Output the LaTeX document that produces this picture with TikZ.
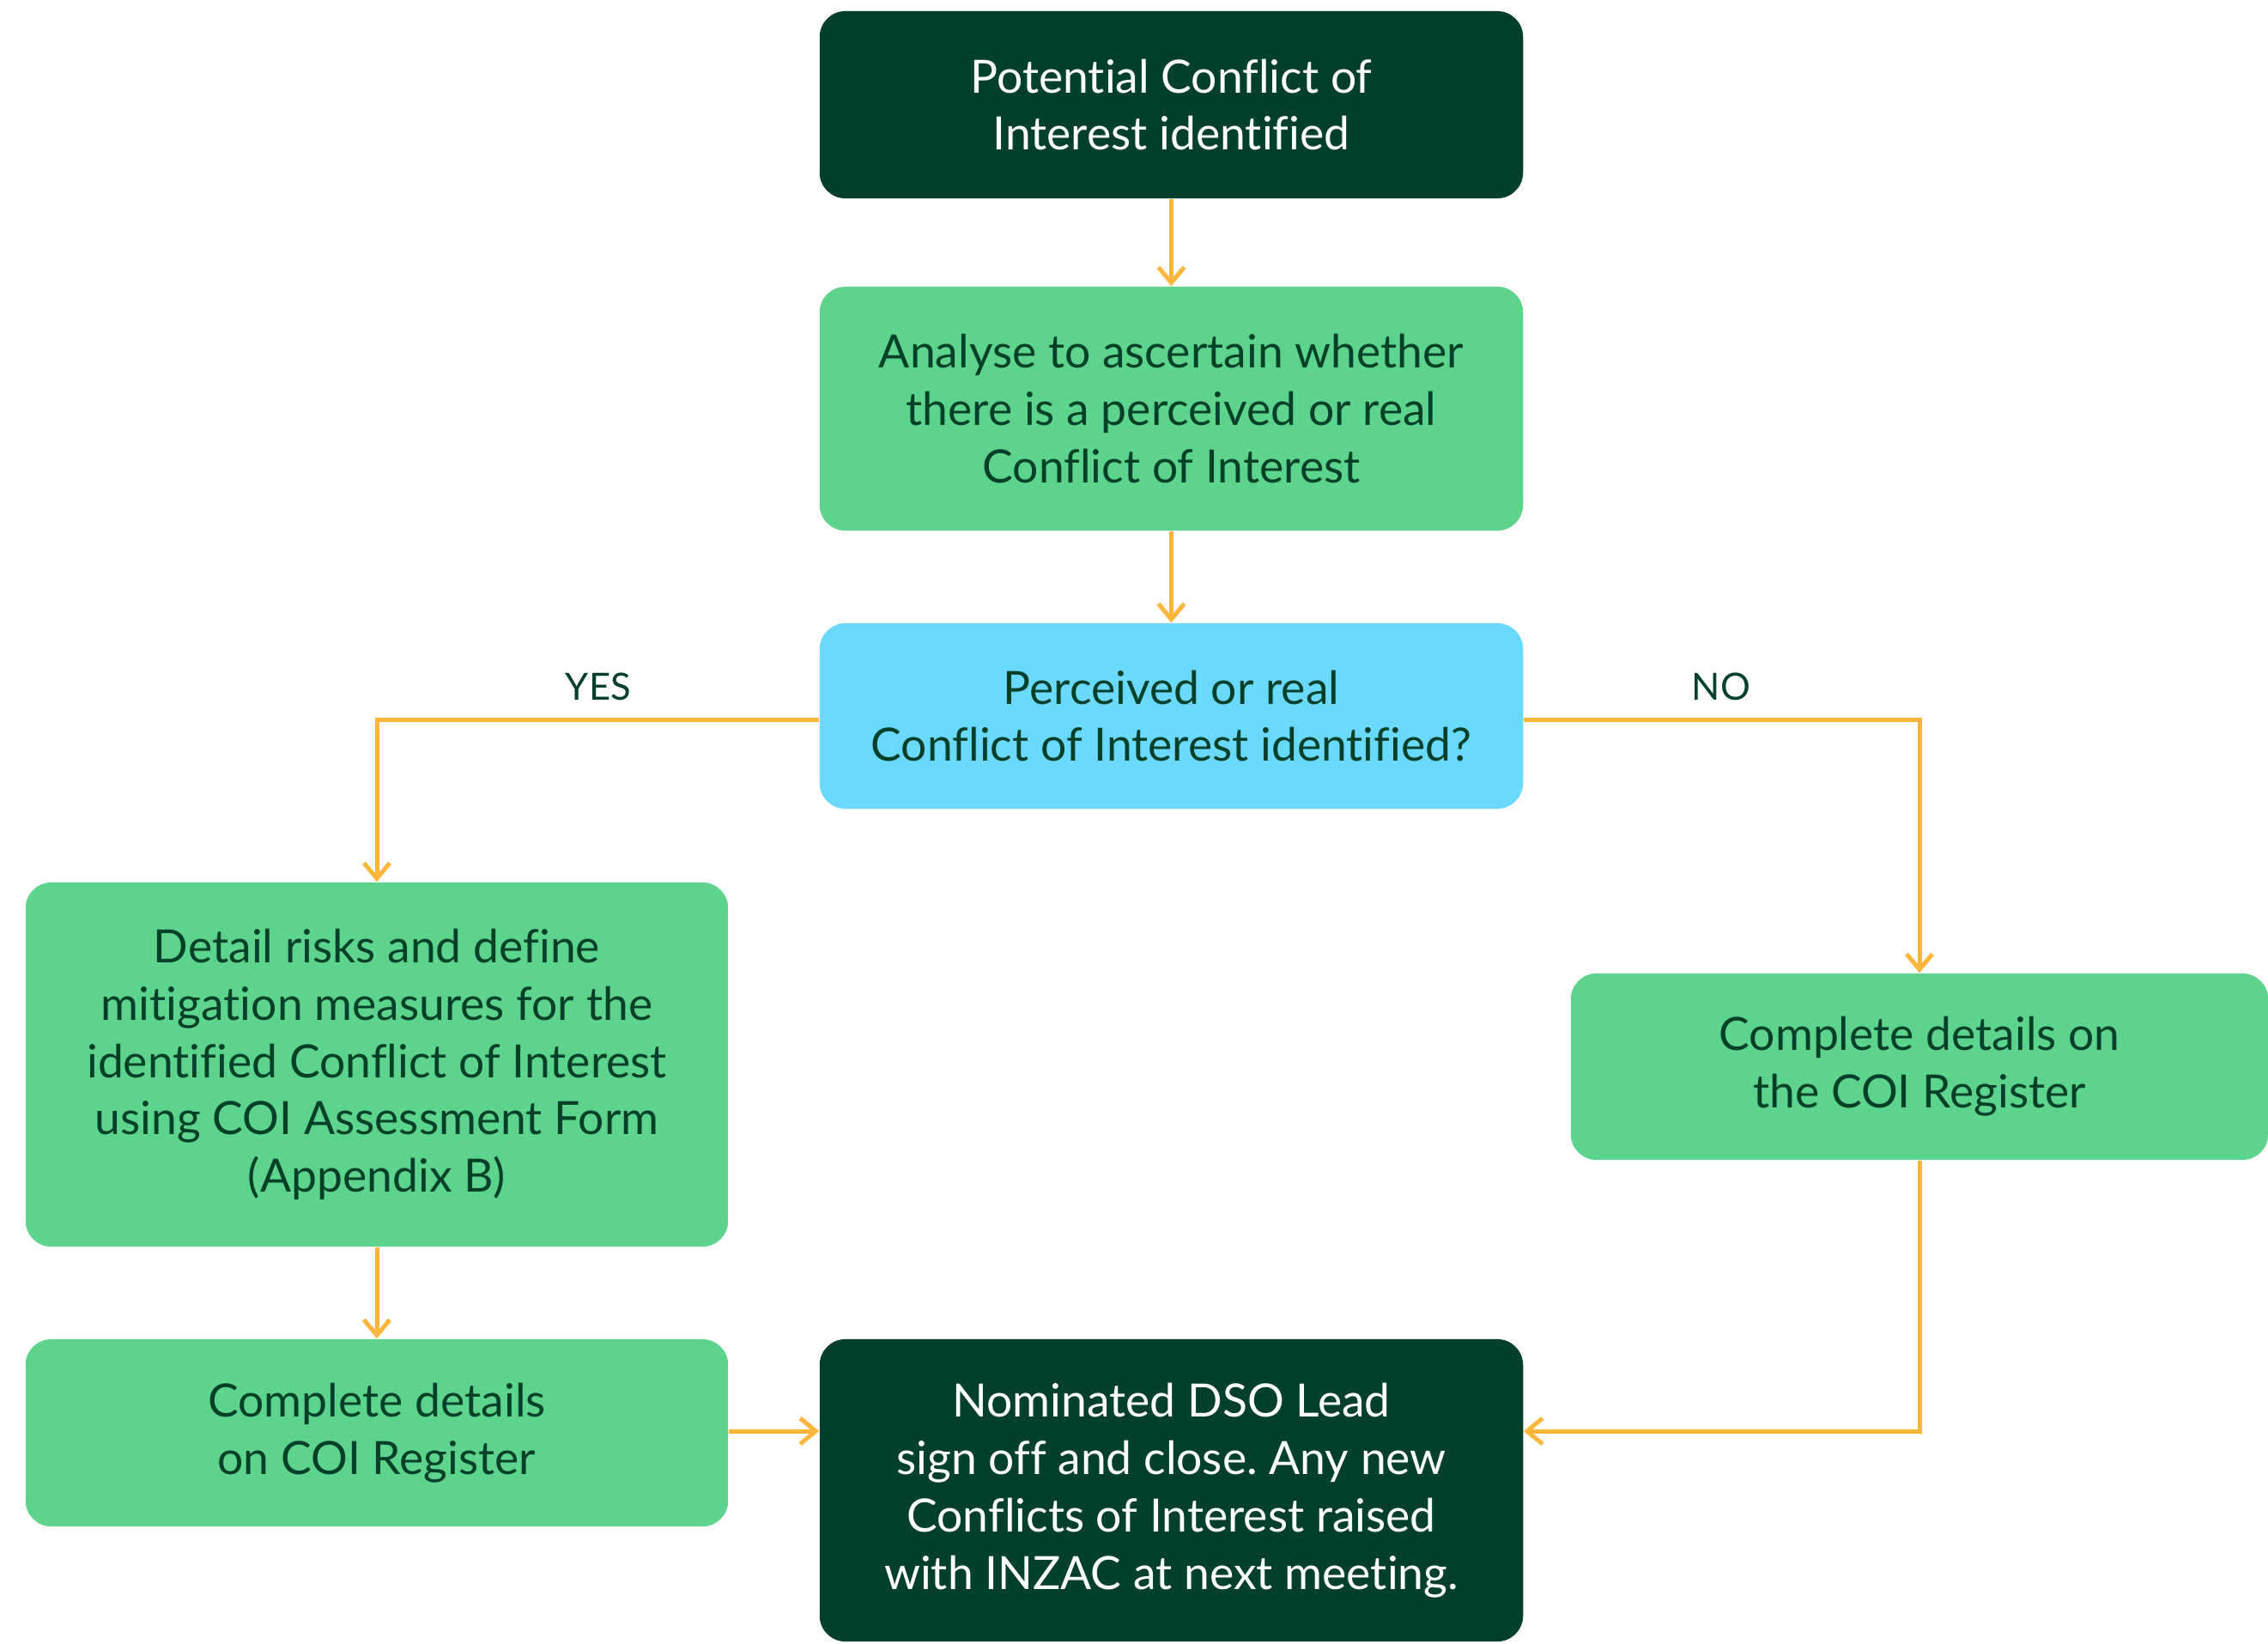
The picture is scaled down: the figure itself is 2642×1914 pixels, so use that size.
\documentclass[tikz,border=0pt]{standalone}
\usepackage{fontspec}
\setmainfont[Ligatures=NoCommon]{Lato}
\usetikzlibrary{arrows.meta}
\definecolor{dkgreen}{HTML}{024029}
\definecolor{ltgreen}{HTML}{5CD48D}
\definecolor{ltblue}{HTML}{6AD9FE}
\definecolor{orng}{HTML}{FFB63A}
\tikzset{
  box/.style={rectangle, rounded corners=0.3cm, align=center, inner sep=0pt,
    font=\fontsize{15.2}{19}\selectfont},
  darkbox/.style={box, fill=dkgreen, text=white},
  greenbox/.style={box, fill=ltgreen, text=dkgreen},
  bluebox/.style={box, fill=ltblue, text=dkgreen},
  conn/.style={draw=orng, line width=0.05cm, -{Straight Barb[length=0.18cm,width=0.3cm,line width=0.05cm]}},
  lbl/.style={text=dkgreen, font=\fontsize{12.4}{14}\selectfont},
}
\begin{document}
\frenchspacing
\begin{tikzpicture}[x=0.01cm,y=-0.01cm]
\useasboundingbox (0,0) rectangle (2642,1914);
\node[darkbox, minimum width=8.19cm, minimum height=2.18cm] (top) at (1364.5,122) {Potential Conflict of\\Interest identified};
\node[greenbox, minimum width=8.19cm, minimum height=2.84cm] (analyse) at (1364.5,476) {Analyse to ascertain whether\\there is a perceived or real\\Conflict of Interest};
\node[bluebox, minimum width=8.19cm, minimum height=2.16cm] (perc) at (1364.5,834) {Perceived or real\\Conflict of Interest identified?};
\node[greenbox, minimum width=8.18cm, minimum height=4.24cm] (detail) at (439,1240) {Detail risks and define\\mitigation measures for the\\identified Conflict of Interest\\using COI Assessment Form\\(Appendix B)};
\node[greenbox, minimum width=8.12cm, minimum height=2.17cm] (right) at (2236,1242.5) {Complete details on\\the COI Register};
\node[greenbox, minimum width=8.18cm, minimum height=2.18cm] (compl) at (439,1669) {Complete details\\on COI Register};
\node[darkbox, minimum width=8.19cm, minimum height=3.52cm] (nom) at (1364.5,1736) {Nominated DSO Lead\\sign off and close. Any new\\Conflicts of Interest raised\\with INZAC at next meeting.};
\coordinate (pw) at ([yshift=-0.04cm]perc.west);
\coordinate (pe) at ([yshift=-0.04cm]perc.east);
\coordinate (ce) at ([yshift=0.02cm]compl.east);
\draw[conn] (top) -- (analyse);
\draw[conn] (analyse) -- (perc);
\draw[conn] (pw) -| (detail.north);
\draw[conn] (pe) -| (right.north);
\draw[conn] (detail) -- (compl);
\draw[conn] (ce) -- (ce -| nom.west);
\draw[conn] (right.south) |- (ce -| nom.east);
\node[lbl] (yes) at (697,800) {YES};
\node[lbl] (no) at (2005,800) {NO};
\end{tikzpicture}
\end{document}
